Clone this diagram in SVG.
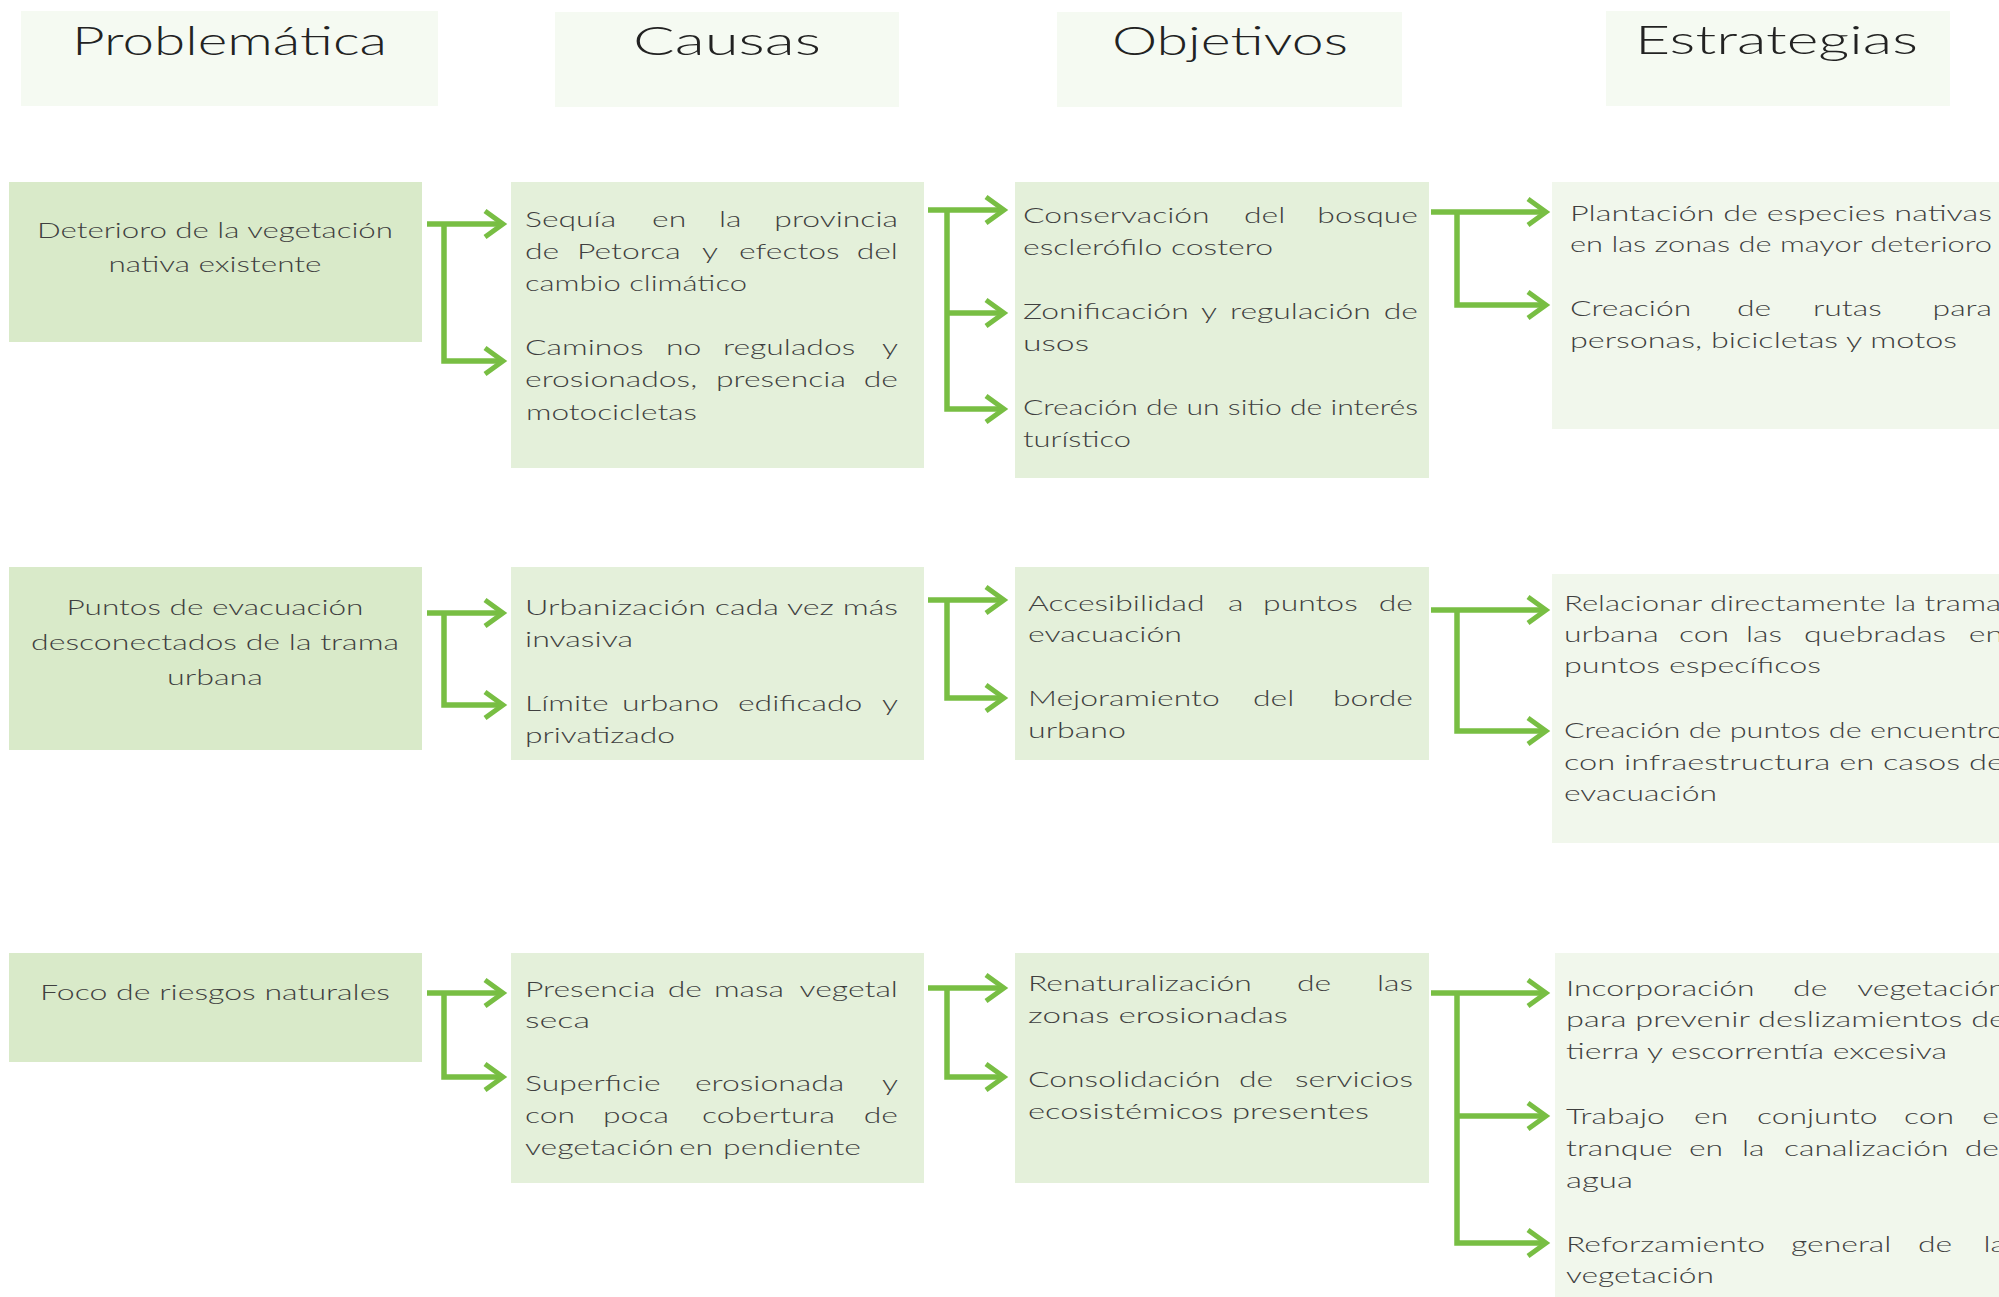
<svg xmlns="http://www.w3.org/2000/svg" width="1999" height="1297" viewBox="0 0 1999 1297">
  <style>
    .hdr-box { fill: #f5faf2; }
    .p-box { fill: #d9eac9; }
    .c-box { fill: #e4f0da; }
    .e-box { fill: #f1f7ec; }
    .hdr { font-family: Lato, "Open Sans", "Liberation Sans", sans-serif; font-weight: 300; font-size: 40px; fill: #222222; }
    .t { font-family: Lato, "Open Sans", "Liberation Sans", sans-serif; font-weight: 300; font-size: 22px; fill: #3f3f3f; }
    .mid { text-anchor: middle; }
    .end { text-anchor: end; }
    .link { fill: none; stroke: #78be43; stroke-width: 5.5; }
  </style>
  <defs>
    <marker id="chev" markerUnits="userSpaceOnUse" markerWidth="40" markerHeight="40" viewBox="-30 -20 40 40" refX="0" refY="0" orient="auto">
      <path d="M-18,-13 L0,0 L-18,13" fill="none" stroke="#78be43" stroke-width="5"/>
    </marker>
  </defs>

  <!-- column headers -->
  <g id="header-problematica">
    <rect class="hdr-box" x="21" y="11" width="417" height="95"/>
    <text class="hdr" x="72" y="55" textLength="315" lengthAdjust="spacingAndGlyphs">Problemática</text>
  </g>
  <g id="header-causas">
    <rect class="hdr-box" x="555" y="12" width="344" height="95"/>
    <text class="hdr" x="633" y="55" textLength="188" lengthAdjust="spacingAndGlyphs">Causas</text>
  </g>
  <g id="header-objetivos">
    <rect class="hdr-box" x="1057" y="12" width="345" height="95"/>
    <text class="hdr" x="1112" y="55" textLength="236" lengthAdjust="spacingAndGlyphs">Objetivos</text>
  </g>
  <g id="header-estrategias">
    <rect class="hdr-box" x="1606" y="11" width="344" height="95"/>
    <text class="hdr" x="1635" y="54" textLength="283" lengthAdjust="spacingAndGlyphs">Estrategias</text>
  </g>

  <!-- row 1 -->
  <g id="problema-1">
    <rect class="p-box" x="9" y="182" width="413" height="160"/>
    <text class="t mid" x="215" y="238" textLength="356" lengthAdjust="spacingAndGlyphs">Deterioro de la vegetación</text>
    <text class="t mid" x="215" y="272" textLength="213" lengthAdjust="spacingAndGlyphs">nativa existente</text>
  </g>
  <g id="causas-1">
    <rect class="c-box" x="511" y="182" width="413" height="286"/>
    <text class="t" transform="translate(525,227) scale(1.45,1)"><tspan x="0">Sequía </tspan><tspan x="87.6">en </tspan><tspan x="133.8">la </tspan><tspan class="end" x="257.2">provincia</tspan></text>
    <text class="t" transform="translate(525,259) scale(1.45,1)"><tspan x="0">de </tspan><tspan x="35.9">Petorca </tspan><tspan x="122.1">y </tspan><tspan x="147.6">efectos </tspan><tspan class="end" x="257.2">del</tspan></text>
    <text class="t" x="525" y="291" textLength="222" lengthAdjust="spacingAndGlyphs">cambio climático</text>
    <text class="t" transform="translate(525,355) scale(1.45,1)"><tspan x="0">Caminos </tspan><tspan x="97.2">no </tspan><tspan x="136.6">regulados </tspan><tspan class="end" x="257.2">y</tspan></text>
    <text class="t" transform="translate(525,387) scale(1.45,1)"><tspan x="0">erosionados, </tspan><tspan x="131.7">presencia </tspan><tspan class="end" x="257.2">de</tspan></text>
    <text class="t" x="526" y="420" textLength="171" lengthAdjust="spacingAndGlyphs">motocicletas</text>
  </g>
  <g id="objetivos-1">
    <rect class="c-box" x="1015" y="182" width="414" height="296"/>
    <text class="t" transform="translate(1023,223) scale(1.45,1)"><tspan x="0">Conservación </tspan><tspan x="152.4">del </tspan><tspan class="end" x="272.4">bosque</tspan></text>
    <text class="t" x="1023" y="255" textLength="250" lengthAdjust="spacingAndGlyphs">esclerófilo costero</text>
    <text class="t" transform="translate(1023,319) scale(1.45,1)"><tspan x="0">Zonificación </tspan><tspan x="122.8">y </tspan><tspan x="142.8">regulación </tspan><tspan class="end" x="272.4">de</tspan></text>
    <text class="t" x="1023" y="351" textLength="66" lengthAdjust="spacingAndGlyphs">usos</text>
    <text class="t" x="1023" y="415" textLength="395" lengthAdjust="spacingAndGlyphs">Creación de un sitio de interés</text>
    <text class="t" x="1023" y="447" textLength="108" lengthAdjust="spacingAndGlyphs">turístico</text>
  </g>
  <g id="estrategias-1">
    <rect class="e-box" x="1552" y="182" width="447" height="247"/>
    <text class="t" x="1570" y="221" textLength="422" lengthAdjust="spacingAndGlyphs">Plantación de especies nativas</text>
    <text class="t" x="1570" y="252" textLength="422" lengthAdjust="spacingAndGlyphs">en las zonas de mayor deterioro</text>
    <text class="t" transform="translate(1570,316) scale(1.45,1)"><tspan x="0">Creación </tspan><tspan x="115.2">de </tspan><tspan x="167.6">rutas </tspan><tspan class="end" x="291">para</tspan></text>
    <text class="t" x="1570" y="348" textLength="387" lengthAdjust="spacingAndGlyphs">personas, bicicletas y motos</text>
  </g>

  <!-- row 2 -->
  <g id="problema-2">
    <rect class="p-box" x="9" y="567" width="413" height="183"/>
    <text class="t mid" x="215" y="615" textLength="297" lengthAdjust="spacingAndGlyphs">Puntos de evacuación</text>
    <text class="t mid" x="215" y="650" textLength="368" lengthAdjust="spacingAndGlyphs">desconectados de la trama</text>
    <text class="t mid" x="215" y="685" textLength="96" lengthAdjust="spacingAndGlyphs">urbana</text>
  </g>
  <g id="causas-2">
    <rect class="c-box" x="511" y="567" width="413" height="193"/>
    <text class="t" x="525" y="615" textLength="373" lengthAdjust="spacingAndGlyphs">Urbanización cada vez más</text>
    <text class="t" x="525" y="647" textLength="108" lengthAdjust="spacingAndGlyphs">invasiva</text>
    <text class="t" transform="translate(525,711) scale(1.45,1)"><tspan x="0">Límite </tspan><tspan x="66.9">urbano </tspan><tspan x="146.9">edificado </tspan><tspan class="end" x="257.2">y</tspan></text>
    <text class="t" x="525" y="743" textLength="150" lengthAdjust="spacingAndGlyphs">privatizado</text>
  </g>
  <g id="objetivos-2">
    <rect class="c-box" x="1015" y="567" width="414" height="193"/>
    <text class="t" transform="translate(1028,611) scale(1.45,1)"><tspan x="0">Accesibilidad </tspan><tspan x="137.9">a </tspan><tspan x="162.1">puntos </tspan><tspan class="end" x="265.5">de</tspan></text>
    <text class="t" x="1028" y="642" textLength="154" lengthAdjust="spacingAndGlyphs">evacuación</text>
    <text class="t" transform="translate(1028,706) scale(1.45,1)"><tspan x="0">Mejoramiento </tspan><tspan x="155.2">del </tspan><tspan class="end" x="265.5">borde</tspan></text>
    <text class="t" x="1028" y="738" textLength="98" lengthAdjust="spacingAndGlyphs">urbano</text>
  </g>
  <g id="estrategias-2">
    <rect class="e-box" x="1552" y="574" width="447" height="269"/>
    <text class="t" x="1564" y="611" textLength="437" lengthAdjust="spacingAndGlyphs">Relacionar directamente la trama</text>
    <text class="t" transform="translate(1564,642) scale(1.45,1)"><tspan x="0">urbana </tspan><tspan x="79.3">con </tspan><tspan x="125.5">las </tspan><tspan x="165.5">quebradas </tspan><tspan class="end" x="302.8">en</tspan></text>
    <text class="t" x="1564" y="673" textLength="257" lengthAdjust="spacingAndGlyphs">puntos específicos</text>
    <text class="t" x="1564" y="738" textLength="440" lengthAdjust="spacingAndGlyphs">Creación de puntos de encuentro</text>
    <text class="t" x="1564" y="770" textLength="440" lengthAdjust="spacingAndGlyphs">con infraestructura en casos de</text>
    <text class="t" x="1564" y="801" textLength="153" lengthAdjust="spacingAndGlyphs">evacuación</text>
  </g>

  <!-- row 3 -->
  <g id="problema-3">
    <rect class="p-box" x="9" y="953" width="413" height="109"/>
    <text class="t mid" x="215" y="1000" textLength="350" lengthAdjust="spacingAndGlyphs">Foco de riesgos naturales</text>
  </g>
  <g id="causas-3">
    <rect class="c-box" x="511" y="953" width="413" height="230"/>
    <text class="t" transform="translate(525,997) scale(1.45,1)"><tspan x="0">Presencia </tspan><tspan x="98.4">de </tspan><tspan x="130.3">masa </tspan><tspan class="end" x="257.2">vegetal</tspan></text>
    <text class="t" x="525" y="1028" textLength="65" lengthAdjust="spacingAndGlyphs">seca</text>
    <text class="t" transform="translate(525,1091) scale(1.45,1)"><tspan x="0">Superficie </tspan><tspan x="117.2">erosionada </tspan><tspan class="end" x="257.2">y</tspan></text>
    <text class="t" transform="translate(525,1123) scale(1.45,1)"><tspan x="0">con </tspan><tspan x="53.8">poca </tspan><tspan x="122.1">cobertura </tspan><tspan class="end" x="257.2">de</tspan></text>
    <text class="t" transform="translate(525,1155) scale(1.45,1)"><tspan x="0">vegetación </tspan><tspan x="106.2">en </tspan><tspan class="end" x="231.7">pendiente</tspan></text>
  </g>
  <g id="objetivos-3">
    <rect class="c-box" x="1015" y="953" width="414" height="230"/>
    <text class="t" transform="translate(1028,991) scale(1.45,1)"><tspan x="0">Renaturalización </tspan><tspan x="185.5">de </tspan><tspan class="end" x="265.5">las</tspan></text>
    <text class="t" x="1028" y="1023" textLength="260" lengthAdjust="spacingAndGlyphs">zonas erosionadas</text>
    <text class="t" transform="translate(1028,1087) scale(1.45,1)"><tspan x="0">Consolidación </tspan><tspan x="145.5">de </tspan><tspan class="end" x="265.5">servicios</tspan></text>
    <text class="t" x="1028" y="1119" textLength="341" lengthAdjust="spacingAndGlyphs">ecosistémicos presentes</text>
  </g>
  <g id="estrategias-3">
    <rect class="e-box" x="1555" y="953" width="444" height="344"/>
    <text class="t" transform="translate(1566,996) scale(1.45,1)"><tspan x="0">Incorporación </tspan><tspan x="156.6">de </tspan><tspan class="end" x="303.4">vegetación</tspan></text>
    <text class="t" x="1566" y="1027" textLength="440" lengthAdjust="spacingAndGlyphs">para prevenir deslizamientos de</text>
    <text class="t" x="1566" y="1059" textLength="381" lengthAdjust="spacingAndGlyphs">tierra y escorrentía excesiva</text>
    <text class="t" transform="translate(1566,1124) scale(1.45,1)"><tspan x="0">Trabajo </tspan><tspan x="88.3">en </tspan><tspan x="131.7">conjunto </tspan><tspan x="233.1">con </tspan><tspan class="end" x="303.4">el</tspan></text>
    <text class="t" transform="translate(1566,1156) scale(1.45,1)"><tspan x="0">tranque </tspan><tspan x="84.8">en </tspan><tspan x="121.4">la </tspan><tspan x="150.3">canalización </tspan><tspan class="end" x="303.4">del</tspan></text>
    <text class="t" x="1566" y="1188" textLength="67" lengthAdjust="spacingAndGlyphs">agua</text>
    <text class="t" transform="translate(1566,1252) scale(1.45,1)"><tspan x="0">Reforzamiento </tspan><tspan x="155.2">general </tspan><tspan x="242.8">de </tspan><tspan class="end" x="303.4">la</tspan></text>
    <text class="t" x="1566" y="1283" textLength="148" lengthAdjust="spacingAndGlyphs">vegetación</text>
  </g>

  <!-- branching arrows between columns -->
  <g id="connectors">
    <!-- problema -> causas -->
    <path class="link" d="M427,224 H503" marker-end="url(#chev)"/>
    <path class="link" d="M444,224 V361 H503" marker-end="url(#chev)"/>
    <path class="link" d="M427,613 H503" marker-end="url(#chev)"/>
    <path class="link" d="M444,613 V705 H503" marker-end="url(#chev)"/>
    <path class="link" d="M427,993 H503" marker-end="url(#chev)"/>
    <path class="link" d="M444,993 V1077 H503" marker-end="url(#chev)"/>
    <!-- causas -> objetivos -->
    <path class="link" d="M928,210 H1004" marker-end="url(#chev)"/>
    <path class="link" d="M947,313 H1004" marker-end="url(#chev)"/>
    <path class="link" d="M947,210 V409 H1004" marker-end="url(#chev)"/>
    <path class="link" d="M928,600 H1004" marker-end="url(#chev)"/>
    <path class="link" d="M947,600 V698 H1004" marker-end="url(#chev)"/>
    <path class="link" d="M928,988 H1004" marker-end="url(#chev)"/>
    <path class="link" d="M947,988 V1077 H1004" marker-end="url(#chev)"/>
    <!-- objetivos -> estrategias -->
    <path class="link" d="M1431,212 H1546" marker-end="url(#chev)"/>
    <path class="link" d="M1457,212 V305 H1546" marker-end="url(#chev)"/>
    <path class="link" d="M1431,610 H1546" marker-end="url(#chev)"/>
    <path class="link" d="M1457,610 V731 H1546" marker-end="url(#chev)"/>
    <path class="link" d="M1431,993 H1546" marker-end="url(#chev)"/>
    <path class="link" d="M1457,1116 H1546" marker-end="url(#chev)"/>
    <path class="link" d="M1457,993 V1243 H1546" marker-end="url(#chev)"/>
  </g>
</svg>
